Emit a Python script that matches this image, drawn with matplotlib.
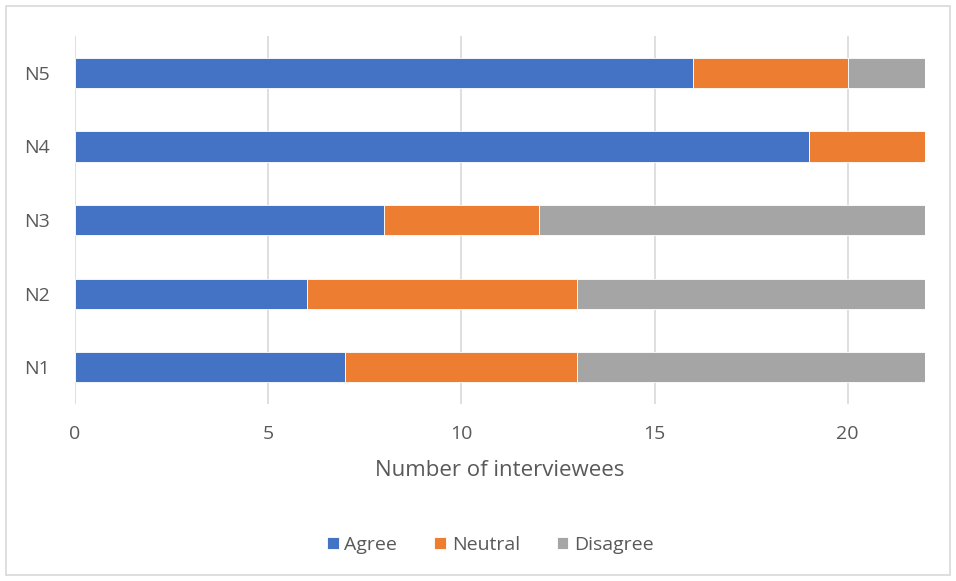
import numpy as np
import matplotlib.pyplot as plt
from matplotlib.patches import Rectangle

plt.rcParams['font.family'] = ['Open Sans', 'DejaVu Sans']

categories = ["N1", "N2", "N3", "N4", "N5"]
agree = [7, 6, 8, 19, 16]
neutral = [6, 7, 4, 3, 4]
disagree = [9, 9, 10, 0, 2]
series = [("Agree", agree, "#4472C4"),
          ("Neutral", neutral, "#ED7D31"),
          ("Disagree", disagree, "#A5A5A5")]

txt = "#595959"

fig = plt.figure(figsize=(9.56, 5.81), dpi=100)
ax = fig.add_axes([0.0785, 0.3046, 0.889, 0.6334])

y = np.arange(len(categories))
left = np.zeros(len(categories))
for name, vals, col in series:
    vals = np.array(vals, dtype=float)
    ax.barh(y, vals, left=left, height=0.41, color=col, label=name,
            edgecolor="white", linewidth=0.6, zorder=3)
    left += vals

ax.set_xlim(0, 22)
ax.set_ylim(-0.5, len(categories) - 0.5)
ax.set_xticks([0, 5, 10, 15, 20])
ax.set_yticks(y)
ax.set_yticklabels(categories)
ax.grid(axis="x", color="#D9D9D9", lw=1.2, zorder=0)
for s in ax.spines.values():
    s.set_visible(False)
ax.tick_params(length=0, colors=txt, labelsize=14)
ax.tick_params(axis="x", pad=15)
ax.tick_params(axis="y", pad=18)
ax.set_xlabel("Number of interviewees", color=txt, fontsize=16, labelpad=12)

fig.legend(loc="center", bbox_to_anchor=(0.513, 0.062), ncol=3, frameon=False,
           fontsize=14, labelcolor=txt, handlelength=0.6, handleheight=0.6,
           handletextpad=0.3, columnspacing=1.9)

fig.patches.append(Rectangle((6 / 956, 6 / 581), 944 / 956, 569 / 581,
                             transform=fig.transFigure, fill=False,
                             edgecolor="#D9D9D9", lw=1.2))

fig.savefig("out.png", dpi=100, facecolor="white")
